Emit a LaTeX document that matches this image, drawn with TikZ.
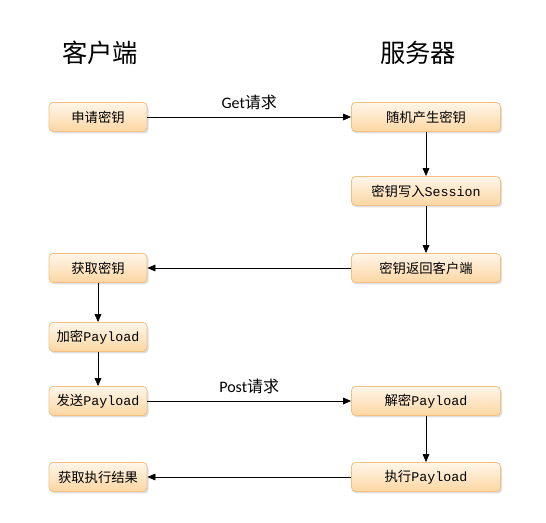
\documentclass[tikz,border=0pt]{standalone}
\usepackage{fontspec}
\setmainfont{Carlito}
\setmonofont{Liberation Mono}
\newfontfamily\cjk{Noto Sans CJK SC}
\usetikzlibrary{arrows.meta, shadows}
\definecolor{boxline}{HTML}{F2C083}
\definecolor{boxtop}{HTML}{FFF6EA}
\definecolor{boxbottom}{HTML}{FDD6A2}
\begin{document}
\begin{tikzpicture}[x=0.75pt,y=-0.75pt]
  % Styles
  \tikzset{
    step box/.style={draw=boxline,line width=0.6pt,rounded corners=3pt,
      top color=boxtop,bottom color=boxbottom,
      drop shadow={shadow xshift=1.2pt,shadow yshift=-1.5pt,opacity=0.25},
      minimum height=29*0.75pt,inner sep=0pt,font=\cjk\fontsize{10}{12}\selectfont},
    client/.style={step box,minimum width=98*0.75pt},
    server/.style={step box,minimum width=149*0.75pt},
    flow/.style={line width=0.6pt,-{Triangle[length=6pt,width=5pt]}},
    title/.style={font=\cjk\fontsize{19}{22}\selectfont},
    label/.style={font=\fontsize{12}{14}\selectfont}
  }
  \useasboundingbox (0,0) rectangle (546,523);

  % Column titles
  \node[title] (ct) at (100,53) {客户端};
  \node[title] (st) at (418,53) {服务器};

  % Client side
  \node[client] (apply) at (98,117) {申请密钥};
  \node[client] (fetch) at (98,268) {获取密钥};
  \node[client] (enc)   at (98,337) {加密{\ttfamily Payload}};
  \node[client] (send)  at (98,401) {发送{\ttfamily Payload}};
  \node[client] (res)   at (98,477) {获取执行结果};

  % Server side
  \node[server] (gen)   at (426,117) {随机产生密钥};
  \node[server] (save)  at (426,191) {密钥写入{\ttfamily Session}};
  \node[server] (back)  at (426,268) {密钥返回客户端};
  \node[server] (dec)   at (426,401) {解密{\ttfamily Payload}};
  \node[server] (run)   at (426,477) {执行{\ttfamily Payload}};

  % Connectors
  \draw[flow] (apply) -- node[label,above=2pt] {Get{\cjk 请求}} (gen);
  \draw[flow] (gen) -- (save);
  \draw[flow] (save) -- (back);
  \draw[flow] (back) -- (fetch);
  \draw[flow] (fetch) -- (enc);
  \draw[flow] (enc) -- (send);
  \draw[flow] (send) -- node[label,above=2pt] {Post{\cjk 请求}} (dec);
  \draw[flow] (dec) -- (run);
  \draw[flow] (run) -- (res);
\end{tikzpicture}
\end{document}
